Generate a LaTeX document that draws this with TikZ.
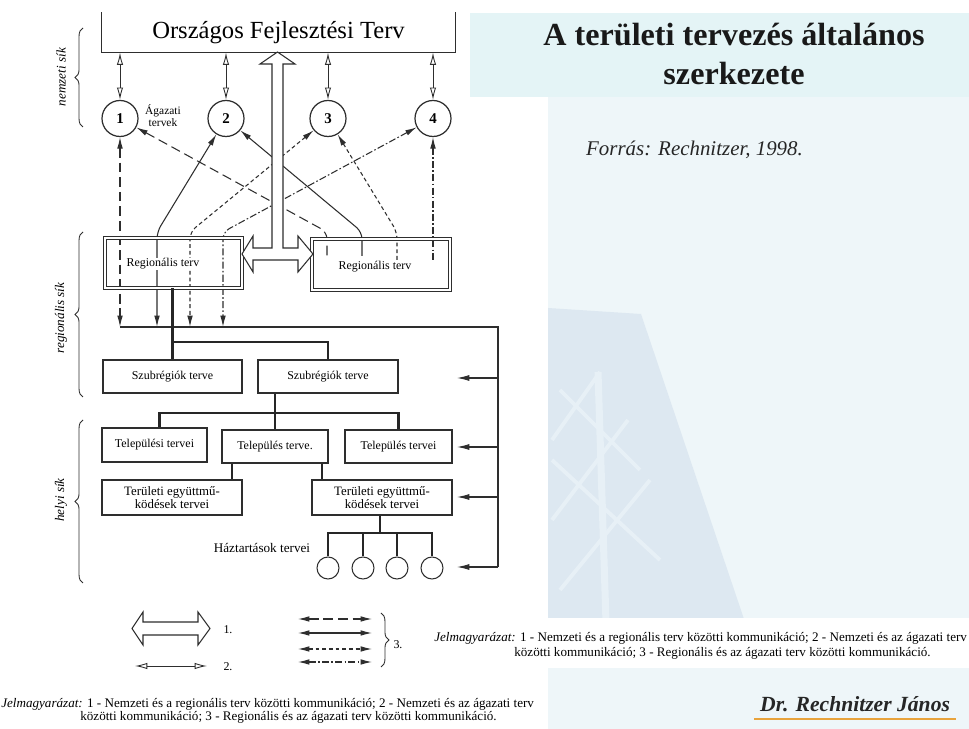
\documentclass[tikz,border=0pt]{standalone}
\usepackage{fontspec}
\setmainfont{Liberation Serif}
\usetikzlibrary{arrows.meta,decorations.pathreplacing,positioning}
\definecolor{slideblue}{HTML}{EEF6F9}
\definecolor{titleband}{HTML}{E4F4F6}
\definecolor{towerblue}{HTML}{DDE8F1}
\definecolor{towerlight}{HTML}{E7F0F6}
\definecolor{inkgray}{HTML}{2E2E2E}
\definecolor{lineorange}{HTML}{E8A33C}
\newcommand{\fsz}[2]{\fontsize{#1}{#2}\selectfont}
\begin{document}
\begin{tikzpicture}[x=0.2mm,y=-0.2mm,
    box/.style={rectangle,draw=inkgray,line width=0.6pt,inner sep=0pt,font=\fsz{6.8}{7.6}},
    regbox/.style={box,double=white,double distance=1.2pt,line width=0.45pt},
    agcirc/.style={circle,draw=inkgray,line width=0.7pt,minimum size=7.2mm,inner sep=0pt,font=\bfseries\fsz{8.5}{9}},
    hhcirc/.style={circle,draw=inkgray,line width=0.6pt,minimum size=4.4mm,inner sep=0pt},
    tinytext/.style={inner sep=0.5pt,font=\fsz{6.8}{7.6}},
    tree/.style={line width=1.6pt,draw=black!85},
    hollowtip/.style={{Latex[open,length=7pt,width=3.6pt]}-{Latex[open,length=7pt,width=3.6pt]},line width=0.5pt,draw=inkgray},
    filltip/.style={{Latex[length=6.5pt,width=3.2pt]}-{Latex[length=6.5pt,width=3.2pt]},line width=0.6pt,draw=inkgray},
    headtip/.style={{Latex[length=6.5pt,width=3.2pt]}-,line width=0.6pt,draw=inkgray},
    dlong/.style={dash pattern=on 5.5pt off 2.8pt},
    dshort/.style={dash pattern=on 2.2pt off 1.6pt},
    ddot/.style={dash pattern=on 4pt off 1.3pt on 0.9pt off 1.3pt},
    brc/.style={decorate,decoration={brace,amplitude=4.5pt},draw=inkgray,line width=0.5pt},
    sikl/.style={rotate=90,font=\itshape\fsz{7.5}{8}},
    legtext/.style={anchor=west,inner sep=0pt,font=\fsz{7.45}{8}},
  ]
  \useasboundingbox (0,0) rectangle (969,729);

  % slide background
  \fill[slideblue] (0,0) rectangle (969,729);
  \fill[titleband] (470,13) rectangle (969,97);
  \fill[towerblue] (548,308) -- (641,314) -- (745,622) -- (548,622) -- cycle;
  \begin{scope}
    \clip (548,308) -- (641,314) -- (745,622) -- (548,622) -- cycle;
    \draw[towerlight,line width=2.2pt] (552,440) -- (600,372) (552,520) -- (628,420) (560,590) -- (650,480)
      (560,390) -- (640,470) (552,460) -- (660,560);
    \draw[towerlight,line width=4pt] (598,372) -- (606,622);
  \end{scope}
  \fill[white] (0,0) rectangle (969,13);
  \fill[white] (0,0) rectangle (470,97);
  \fill[white] (0,97) rectangle (548,618);
  \fill[white] (430,618) rectangle (969,668);
  \fill[white] (0,618) rectangle (548,729);

  % title and source
  \node[font=\bfseries\fsz{18.3}{22},align=center,text=black!90] (title) at (734,54) {A területi tervezés általános\\szerkezete};
  \node[anchor=west,font=\itshape\fsz{11.9}{13},text=black!85] (src) at (580,150) {Forrás: Rechnitzer, 1998.};

  % national level
  \node[box,draw=none,minimum width=70.6mm,minimum height=7.8mm,font=\fsz{14}{15}] (oft) at (278.5,32.5) {Országos Fejlesztési Terv};
  \draw[inkgray,line width=0.6pt] (oft.north west) |- (oft.south east) -- (oft.north east);

  \node[agcirc] (c1) at (120,118.5) {1};
  \node[agcirc] (c2) at (226,118.5) {2};
  \node[agcirc] (c3) at (328,118.5) {3};
  \node[agcirc] (c4) at (433,118.5) {4};
  \node[tinytext,align=center,font=\fsz{6.5}{6.8}] (agl) at (163,116) {Ágazati\\tervek};

  \foreach \c in {c1,c2,c3,c4}
    \draw[hollowtip] (oft.south -| \c) -- (\c);

  % sectoral <-> regional links
  \coordinate (busL) at (120,327);
  \coordinate (busR) at (498,327);
  \draw[filltip,dlong] (c1) -- (c1 |- busL);
  \draw[filltip,rounded corners=4pt] (c2) -- (157,232) -- (157,327);
  \draw[filltip,dshort,rounded corners=4pt] (c3) -- (190,232) -- (190,327);
  \draw[filltip,ddot,rounded corners=4pt] (c4) -- (223,232) -- (223,327);

  \draw[headtip,dlong,rounded corners=4pt] (c1) -- (327,232) -- (327,256);
  \draw[headtip,rounded corners=4pt] (c2) -- (362,232) -- (362,256);
  \draw[headtip,dshort,rounded corners=4pt] (c3) -- (397,232) -- (397,260);
  \draw[headtip,ddot] (c4) -- (c4 |- 0,262);

  % regional level
  \node[regbox,minimum width=27.4mm,minimum height=10mm] (reg1) at (173.5,263) {};
  \node[regbox,minimum width=27.6mm,minimum height=10.2mm] (reg2) at (381,264.5) {};
  \node[tinytext,fill=white] (reg1t) at (163,264) {Regionális terv};
  \node[tinytext,fill=white] (reg2t) at (375,267) {Regionális terv};

  % national <-> regional
  \filldraw[fill=white,draw=inkgray,line width=0.6pt]
    (277.5,52) -- (295,64) -- (283,64) -- (283,248) -- (298,248) -- (298,236)
    -- (313,254) -- (298,272) -- (298,260) -- (253,260) -- (253,272)
    -- (242,254) -- (253,236) -- (253,248) -- (272,248) -- (272,64)
    -- (260,64) -- cycle;

  \draw[line width=0.6pt,inkgray] (busL) -- (busR) -- (busR |- 0,567);

  \node[box,minimum width=27.8mm,minimum height=6.6mm] (szub1) at (172.5,376.5) {Szubrégiók terve};
  \node[box,minimum width=28mm,minimum height=6.6mm] (szub2) at (328,376.5) {Szubrégiók terve};
  \draw[tree] (reg1.south -| szub1.north) -- (szub1.north);
  \draw[tree] (szub1.north |- 0,342) -| (szub2.north);

  % local level
  \node[box,minimum width=21mm,minimum height=6.8mm] (tel1) at (154.5,445) {Települési tervei};
  \node[box,minimum width=21.2mm,minimum height=6.6mm] (tel2) at (275,446.5) {Település terve.};
  \node[box,minimum width=21.4mm,minimum height=6.6mm] (tel3) at (398.5,446.5) {Település tervei};
  \draw[tree] (szub2.south -| tel2.north) -- (tel2.north);
  \draw[tree] ([xshift=1mm]tel1.north) |- (tel2.north |- 0,413) -| (tel3.north);

  \node[box,align=center,font=\fsz{7.3}{7.6},minimum width=28mm,minimum height=7mm] (ter1) at (172,497.5) {Területi együttmű-\\ködések tervei};
  \node[box,align=center,font=\fsz{7.3}{7.6},minimum width=28mm,minimum height=7mm] (ter2) at (382,497.5) {Területi együttmű-\\ködések tervei};
  \draw[tree] (tel2.south -| 232,0) -- (ter1.north -| 232,0);
  \draw[tree] (tel2.south -| 322,0) -- (ter2.north -| 322,0);

  \node[hhcirc] (hh1) at (328,568) {};
  \node[hhcirc] (hh2) at (363,568) {};
  \node[hhcirc] (hh3) at (397,568) {};
  \node[hhcirc] (hh4) at (432,568) {};
  \coordinate (hhj) at (380,533);
  \draw[tree] (ter2.south -| hhj) -- (hhj);
  \draw[tree] (hh1.north) |- (hhj) -| (hh4.north);
  \draw[tree] (hh2.north) -- (hh2.north |- hhj);
  \draw[tree] (hh3.north) -- (hh3.north |- hhj);
  \node[tinytext,font=\fsz{7.5}{8}] (hhl) at (262,548) {Háztartások tervei};

  % feedback to lower levels
  \foreach \f/\yy in {fb1/378,fb2/447,fb3/497,fb4/567} {
    \coordinate (\f) at (457,\yy);
    \draw[-{Latex[length=7pt,width=3.4pt]},line width=0.6pt,inkgray] (\f -| busR) -- (\f);
  }

  % planning levels
  \draw[brc] (83,127) -- (83,28);
  \node[sikl] (sik1) at (61,77) {nemzeti sík};
  \draw[brc] (83,397) -- (83,232);
  \node[sikl] (sik2) at (61,318) {regionális sík};
  \draw[brc] (83,583) -- (83,420);
  \node[sikl] (sik3) at (61,500) {helyi sík};

  % legend
  \filldraw[fill=white,draw=inkgray,line width=0.6pt] (132,628.5) -- (143,612) -- (143,622) -- (198,622)
    -- (198,612) -- (210,628.5) -- (198,645) -- (198,635) -- (143,635) -- (143,645) -- cycle;
  \node[tinytext] (lg1) at (228,630) {1.};
  \coordinate (lg2a) at (135,666);
  \coordinate (lg2b) at (207,666);
  \draw[hollowtip] (lg2a) -- (lg2b);
  \node[tinytext] (lg2) at (228,667) {2.};
  \foreach \yy/\st in {619/dlong,633/solid,649/dshort,662/ddot} {
    \coordinate (lg3a) at (298,\yy);
    \coordinate (lg3b) at (372,\yy);
    \draw[filltip,\st] (lg3a) -- (lg3b);
  }
  \draw[brc] (381,613) -- (381,667);
  \node[tinytext] (lg3) at (398,645) {3.};

  \node[legtext] (jm1a) at (1,704) {\textit{Jelmagyarázat:} 1 - Nemzeti és a regionális terv közötti kommunikáció; 2 - Nemzeti és az ágazati terv};
  \node[legtext] (jm1b) at (80,717) {közötti kommunikáció; 3 - Regionális és az ágazati terv közötti kommunikáció.};
  \node[legtext] (jm2a) at (434,638) {\textit{Jelmagyarázat:} 1 - Nemzeti és a regionális terv közötti kommunikáció; 2 - Nemzeti és az ágazati terv};
  \node[legtext] (jm2b) at (514,653) {közötti kommunikáció; 3 - Regionális és az ágazati terv közötti kommunikáció.};

  % author
  \node[anchor=west,font=\bfseries\itshape\fsz{12.3}{14},text=black!85] (auth) at (754,704) {Dr. Rechnitzer János};
  \draw[lineorange,line width=1.4pt] ([yshift=-0.5pt]auth.south west) -- ([yshift=-0.5pt]auth.south east);
\end{tikzpicture}
\end{document}
